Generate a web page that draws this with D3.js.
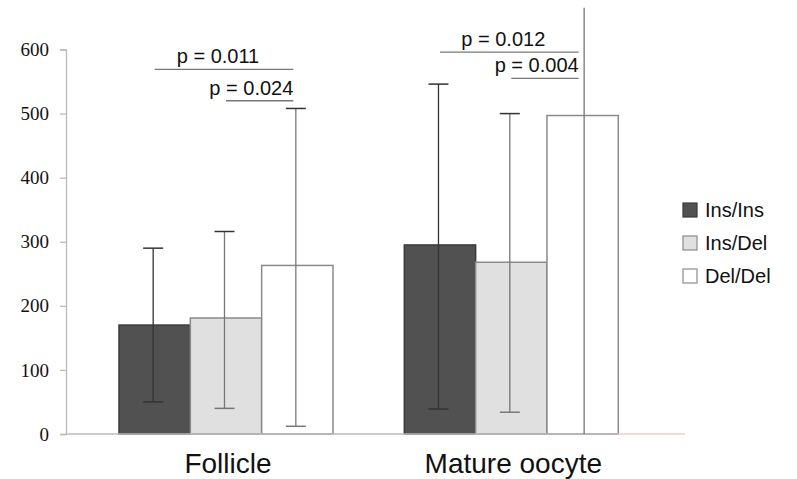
<!DOCTYPE html>
<html>
<head>
<meta charset="utf-8">
<script src="https://cdn.jsdelivr.net/npm/d3@7"></script>
<style>
  body { margin: 0; background: #fff; }
  svg { display: block; }
  .yaxis .tick text { font-family: 'Liberation Serif', 'DejaVu Serif', serif; font-size: 19px; }
</style>
</head>
<body>
<div id="chart"></div>
<script>
// data
var groups = ["Follicle", "Mature oocyte"];
var genotypes = ["Ins/Ins", "Ins/Del", "Del/Del"];
var follicleMean = [170, 181, 263];
var follicleHigh = [290, 316, 508];
var follicleLow = [50, 40, 12];
var oocyteMean = [295, 268, 497];
var oocyteHigh = [546, 500, 665];
var oocyteLow = [39, 34, 0];
var yTicks = [0, 100, 200, 300, 400, 500, 600];

// significance brackets: group, bar from, bar to, label, height in data units
var pGroup = ["Follicle", "Follicle", "Mature oocyte", "Mature oocyte"];
var pFrom = [0, 1, 0, 1];
var pTo = [2, 2, 2, 2];
var pLabel = ["p = 0.011", "p = 0.024", "p = 0.012", "p = 0.004"];
var pHeight = [569, 520, 596, 555];

var width = 797, height = 479;
var fills = ["#515151", "#e0e0e0", "#ffffff"];
var strokes = ["#3a3a3a", "#8a8a8a", "#8a8a8a"];
var errColor = ["#333", "#777", "#777"];

var svg = d3.select("#chart").append("svg")
    .attr("width", width).attr("height", height);

var y = d3.scaleLinear().domain([0, 600]).range([434, 49.5]);
var x0 = d3.scaleBand().domain(groups).range([119, 618.3]).paddingInner(0.25);
var x1 = d3.scaleBand().domain(genotypes).range([0, x0.bandwidth()]);

var rows = [];
groups.forEach(function (g, gi) {
    var m = gi === 0 ? follicleMean : oocyteMean;
    var hi = gi === 0 ? follicleHigh : oocyteHigh;
    var lo = gi === 0 ? follicleLow : oocyteLow;
    genotypes.forEach(function (k, ki) {
        rows.push({group: g, key: k, idx: ki, mean: m[ki], high: hi[ki], low: lo[ki]});
    });
});

// y axis
var yAxis = d3.axisLeft(y).tickValues(yTicks).tickSize(6).tickPadding(11);
var ya = svg.append("g").attr("class", "yaxis")
    .attr("transform", "translate(66,0)").call(yAxis);
ya.select(".domain").attr("stroke", "#bbb").attr("stroke-width", 1.3);
ya.selectAll(".tick line").attr("stroke", "#bbb").attr("stroke-width", 1.3);
ya.selectAll(".tick text").attr("fill", "#111");

// bars
svg.selectAll("rect.bar").data(rows).enter().append("rect")
    .attr("class", "bar")
    .attr("x", function (d) { return x0(d.group) + x1(d.key); })
    .attr("y", function (d) { return y(d.mean); })
    .attr("width", x1.bandwidth())
    .attr("height", function (d) { return y(0) - y(d.mean); })
    .attr("fill", function (d) { return fills[d.idx]; })
    .attr("stroke", function (d) { return strokes[d.idx]; })
    .attr("stroke-width", 1.5);

// baseline
svg.append("line").attr("x1", 66).attr("x2", 618.3)
    .attr("y1", y(0)).attr("y2", y(0))
    .attr("stroke", "#bbb").attr("stroke-width", 1.5);
svg.append("line").attr("x1", 618.3).attr("x2", 685)
    .attr("y1", y(0)).attr("y2", y(0))
    .attr("stroke", "#f2cccc").attr("stroke-width", 1.5);

// error bars
function cx(d) { return x0(d.group) + x1(d.key) + x1.bandwidth() / 2 - 1.5 + (d.high > 600 ? 3 : 0); }
var eb = svg.selectAll("g.err").data(rows).enter().append("g").attr("class", "err");
eb.append("line")
    .attr("x1", cx).attr("x2", cx)
    .attr("y1", function (d) { return y(d.high); })
    .attr("y2", function (d) { return y(d.low); })
    .attr("stroke", function (d) { return errColor[d.idx]; })
    .attr("stroke-width", 1.3);
eb.filter(function (d) { return d.high <= 600; }).append("line")
    .attr("x1", function (d) { return cx(d) - 10; })
    .attr("x2", function (d) { return cx(d) + 10; })
    .attr("y1", function (d) { return y(d.high); })
    .attr("y2", function (d) { return y(d.high); })
    .attr("stroke", "#333").attr("stroke-width", 1.5);
eb.filter(function (d) { return d.low > 0; }).append("line")
    .attr("x1", function (d) { return cx(d) - 10; })
    .attr("x2", function (d) { return cx(d) + 10; })
    .attr("y1", function (d) { return y(d.low); })
    .attr("y2", function (d) { return y(d.low); })
    .attr("stroke", function (d) { return errColor[d.idx]; }).attr("stroke-width", 1.5);

// p-value brackets
pLabel.forEach(function (lab, i) {
    var g = pGroup[i];
    var xa = x0(g) + x1(genotypes[pFrom[i]]) + x1.bandwidth() / 2;
    var xb = x0(g) + x1(genotypes[pTo[i]]) + x1.bandwidth() / 2 - 4;
    var yy = y(pHeight[i]);
    svg.append("line").attr("x1", xa).attr("x2", xb)
        .attr("y1", yy).attr("y2", yy)
        .attr("stroke", "#777").attr("stroke-width", 1.3);
    var first = pFrom[i] === 0;
    svg.append("text")
        .attr("x", first ? (xa + xb) / 2 - 6 : xb)
        .attr("y", yy - 6)
        .attr("text-anchor", first ? "middle" : "end")
        .attr("font-family", "'Liberation Sans', Arial, sans-serif")
        .attr("font-size", 20).attr("fill", "#111")
        .text(lab);
});

// category labels
svg.selectAll("text.cat").data(groups).enter().append("text")
    .attr("class", "cat")
    .attr("x", function (d) { return x0(d) + x0.bandwidth() / 2 + 2; })
    .attr("y", 473)
    .attr("text-anchor", "middle")
    .attr("font-family", "'Liberation Sans', Arial, sans-serif")
    .attr("font-size", 28).attr("fill", "#111")
    .text(function (d) { return d; });

// legend
var lg = svg.selectAll("g.leg").data(genotypes).enter().append("g")
    .attr("class", "leg")
    .attr("transform", function (d, i) { return "translate(683," + (203 + i * 33) + ")"; });
lg.append("rect").attr("width", 14).attr("height", 14)
    .attr("fill", function (d, i) { return fills[i]; })
    .attr("stroke", function (d, i) { return strokes[i]; })
    .attr("stroke-width", 1.2);
lg.append("text").attr("x", 22).attr("y", 7).attr("dy", "0.36em")
    .attr("font-family", "'Liberation Sans', Arial, sans-serif")
    .attr("font-size", 20).attr("fill", "#111")
    .text(function (d) { return d; });
</script>
</body>
</html>
